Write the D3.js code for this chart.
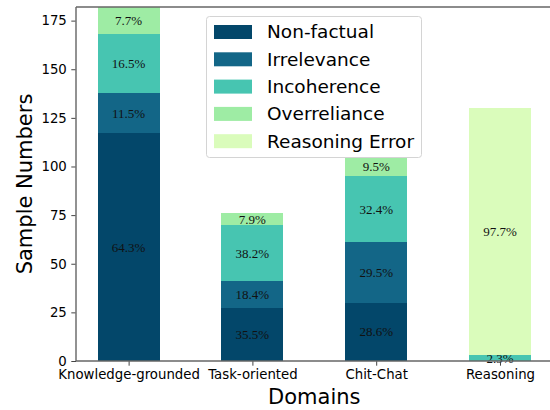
<!DOCTYPE html>
<meta charset="utf-8">
<style>
body { margin: 0; background: #fff; }
.tick text { font-family: "DejaVu Sans", sans-serif; font-size: 13.3px; fill: #000; }
.pct { font-family: "Liberation Serif", "Times New Roman", serif; font-size: 13px; fill: #111; }
.axis-label { font-family: "DejaVu Sans", sans-serif; font-size: 21px; fill: #000; }
.legend text { font-family: "DejaVu Sans", sans-serif; font-size: 18.5px; fill: #000; }
</style>
<svg width="550" height="410"></svg>
<script src="https://cdn.jsdelivr.net/npm/d3@7"></script>
<script>

var domains = ["Knowledge-grounded", "Task-oriented", "Chit-Chat", "Reasoning"];
var errorTypes = ["Non-factual", "Irrelevance", "Incoherence", "Overreliance", "Reasoning Error"];
var colors = ["#03476a", "#136687", "#47c5b1", "#9eeca4", "#dafcbb"];

// sample counts per domain, one array per error type
var nonFactual   = [117, 27, 30, 0];
var irrelevance  = [21, 14, 31, 0];
var incoherence  = [30, 29, 34, 3];
var overreliance = [14, 6, 10, 0];
var reasoningErr = [0, 0, 0, 127];

// percentage labels (as printed)
var pctNonFactual   = ["64.3%", "35.5%", "28.6%", ""];
var pctIrrelevance  = ["11.5%", "18.4%", "29.5%", ""];
var pctIncoherence  = ["16.5%", "38.2%", "32.4%", "2.3%"];
var pctOverreliance = ["7.7%", "7.9%", "9.5%", ""];
var pctReasoning    = ["", "", "", "97.7%"];

var yTicks = [0, 25, 50, 75, 100, 125, 150, 175];

var series = [nonFactual, irrelevance, incoherence, overreliance, reasoningErr];
var pcts = [pctNonFactual, pctIrrelevance, pctIncoherence, pctOverreliance, pctReasoning];

var svg = d3.select("svg");

var mLeft = 76, mRight = 552.6, mTop = 7, mBottom = 361;

// bar positions 0..3, width 0.5, matplotlib-style margins
var x = d3.scaleLinear().domain([-0.425, 3.425]).range([mLeft, mRight]);
var y = d3.scaleLinear().domain([0, 182]).range([mBottom, mTop]);
var barW = 0.5;

var rows = domains.map(function(d, i) {
  var r = { domain: d, i: i };
  errorTypes.forEach(function(t, k) { r[t] = series[k][i]; });
  return r;
});
var stacked = d3.stack().keys(errorTypes)(rows);

var g = svg.append("g");

stacked.forEach(function(layer, k) {
  g.selectAll(null)
      .data(layer)
    .enter().append("rect")
      .attr("x", function(d) { return x(d.data.i - barW / 2); })
      .attr("width", function(d) { return x(barW) - x(0); })
      .attr("y", function(d) { return y(d[1]); })
      .attr("height", function(d) { return y(d[0]) - y(d[1]); })
      .attr("fill", colors[k])
      .attr("shape-rendering", "crispEdges");
});

stacked.forEach(function(layer, k) {
  g.selectAll(null)
      .data(layer.filter(function(d, i) { return pcts[k][i] !== ""; }))
    .enter().append("text")
      .attr("class", "pct")
      .attr("x", function(d) { return x(d.data.i); })
      .attr("y", function(d) { return y((d[0] + d[1]) / 2); })
      .attr("dy", "0.35em")
      .attr("text-anchor", "middle")
      .text(function(d) { return pcts[k][d.data.i]; });
});

// axes
var yAxis = svg.append("g")
    .attr("transform", "translate(" + mLeft + ",0)")
    .call(d3.axisLeft(y).tickValues(yTicks).tickSize(4.7).tickPadding(4.5));
var xAxis = svg.append("g")
    .attr("transform", "translate(0," + mBottom + ")")
    .call(d3.axisBottom(x).tickValues([0, 1, 2, 3]).tickSize(4.7).tickPadding(4)
      .tickFormat(function(d) { return domains[d]; }));

[yAxis, xAxis].forEach(function(a) {
  a.select(".domain").remove();
  a.selectAll(".tick line").attr("stroke", "#444").attr("stroke-width", 1);
});
xAxis.selectAll(".tick text").attr("dy", "0.72em");

// spines
svg.append("line").attr("x1", mLeft).attr("x2", mLeft).attr("y1", mTop).attr("y2", mBottom)
    .attr("stroke", "#777").attr("stroke-width", 1.6);
svg.append("line").attr("x1", mLeft).attr("x2", mRight).attr("y1", mTop).attr("y2", mTop)
    .attr("stroke", "#666").attr("stroke-width", 1.6);
svg.append("line").attr("x1", mLeft).attr("x2", mRight).attr("y1", mBottom).attr("y2", mBottom)
    .attr("stroke", "#666").attr("stroke-width", 1.6);

// axis labels
svg.append("text")
    .attr("class", "axis-label")
    .attr("transform", "translate(32," + (mTop + mBottom) / 2 + ") rotate(-90)")
    .attr("text-anchor", "middle")
    .text("Sample Numbers");
svg.append("text")
    .attr("class", "axis-label")
    .attr("x", (mLeft + mRight) / 2)
    .attr("y", 404)
    .attr("text-anchor", "middle")
    .text("Domains");

// legend
var legend = svg.append("g").attr("class", "legend");
legend.append("rect")
    .attr("x", 206.5).attr("y", 16.5).attr("width", 215).attr("height", 141)
    .attr("rx", 3)
    .attr("fill", "#fff").attr("fill-opacity", 0.85)
    .attr("stroke", "#d4d4d4").attr("stroke-width", 1);
var item = legend.selectAll(null)
    .data(errorTypes)
  .enter().append("g")
    .attr("transform", function(d, i) { return "translate(214," + (32 + i * 27.3) + ")"; });
item.append("rect")
    .attr("x", 0).attr("y", -7).attr("width", 38).attr("height", 14)
    .attr("fill", function(d, i) { return colors[i]; });
item.append("text")
    .attr("x", 53).attr("y", 0).attr("dy", "0.35em")
    .text(function(d) { return d; });

</script>
